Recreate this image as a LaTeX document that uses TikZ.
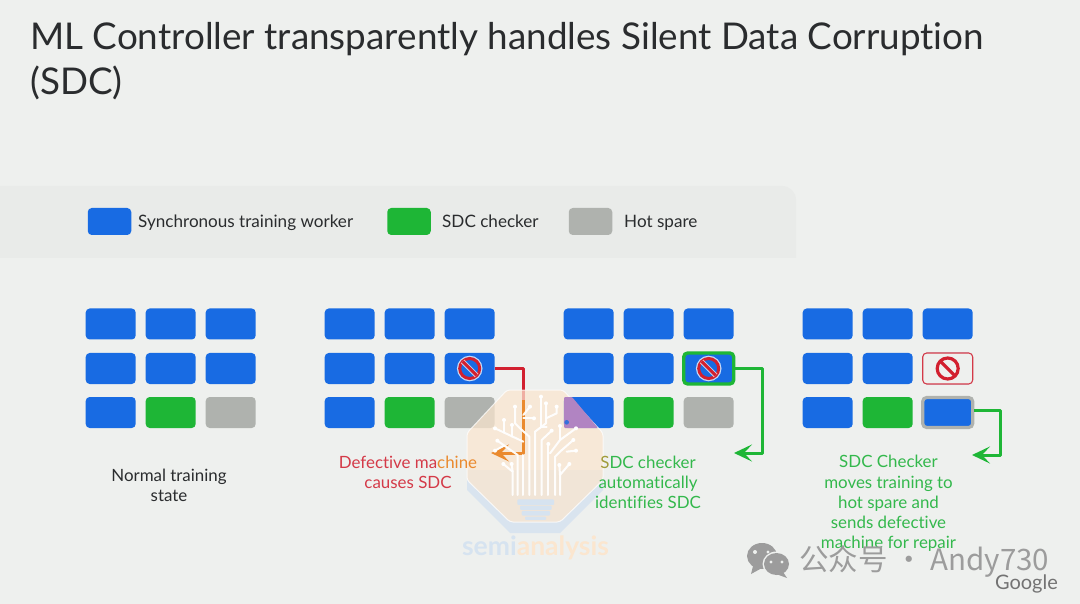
\documentclass[tikz,border=0pt]{standalone}
\usepackage{fontspec}
\setmainfont[Ligatures=NoCommon]{Lato}
\newfontfamily\cjkf{Noto Sans CJK SC}
\usetikzlibrary{arrows.meta,calc}
\definecolor{bgc}{HTML}{EEF0EE}
\definecolor{panelc}{HTML}{E9EBE9}
\definecolor{bluec}{HTML}{186BE3}
\definecolor{greenc}{HTML}{1EB636}
\definecolor{grayc}{HTML}{AFB2AE}
\definecolor{redc}{HTML}{D2202F}
\definecolor{redt}{HTML}{D43A48}
\definecolor{greent}{HTML}{33B84C}
\definecolor{inkc}{HTML}{2A2C2E}
\definecolor{orangec}{HTML}{EA8A2E}
\definecolor{wmc}{HTML}{FBE6CF}
\definecolor{wmb}{HTML}{D6E3F0}
\definecolor{wxc}{HTML}{9C9C9C}
\definecolor{purplec}{HTML}{B184C2}
\tikzset{
  x=1pt,y=-1pt,
  cell/.style={rounded corners=4pt,minimum width=50pt,minimum height=31pt,inner sep=0pt,fill=#1,draw=none},
  key/.style={rounded corners=4pt,minimum width=43.5pt,minimum height=27pt,inner sep=0pt,fill=#1,draw=none},
  keytext/.style={anchor=base west,inner sep=0pt,text=inkc,font=\fontsize{17.1}{20}\selectfont},
  caption/.style={align=center,inner sep=0pt,font=\fontsize{16.9}{20.2}\selectfont},
  link/.style={line width=3pt,line join=round,-{Stealth[length=18pt,width=17pt,inset=8pt]}},
  twig/.style={white,line width=2pt,line cap=round,line join=round,opacity=.95},
  tip/.style={fill=white,draw=none}
}
\newcommand{\stopsign}[2]{% at, interior
  \fill[white,opacity=.75] (#1) circle (12.8pt);
  \draw[redc,line width=3pt,fill=#2] (#1) circle (10pt);
  \draw[white,line width=5pt,opacity=.7] ($(#1)+(-7,-7)$) -- ($(#1)+(7,7)$);
  \draw[redc,line width=3pt] ($(#1)+(-7,-7)$) -- ($(#1)+(7,7)$);
}
\begin{document}
\begin{tikzpicture}
\useasboundingbox (0,0) rectangle (1080,604);
\fill[bgc] (0,0) rectangle (1080,604);
\fill[panelc,rounded corners=14pt] (-30,186) rectangle (796,300);
\fill[bgc] (-30,258) rectangle (830,310);
% title
\node[anchor=west,inner sep=0pt,text=inkc,font=\fontsize{36.85}{44}\selectfont] (title1) at (30,39) {ML Controller transparently handles Silent Data Corruption};
\node[anchor=west,inner sep=0pt,text=inkc,font=\fontsize{36.85}{44}\selectfont] (title2) at (30,83) {(SDC)};
% legend
\node[key=bluec] (k1) at (109.5,221.5) {};
\node[keytext] (k1t) at (138,228) {Synchronous training worker};
\node[key=greenc] (k2) at (409,221.5) {};
\node[keytext] (k2t) at (442,228) {SDC checker};
\node[key=grayc] (k3) at (590.5,221.5) {};
\node[keytext] (k3t) at (624,228) {Hot spare};
% worker grids
\foreach \g/\dx in {1/0,2/239,3/478,4/717}{
  \foreach \c/\cx in {1/110.7,2/170.7,3/230.7}{
    \foreach \r/\ry in {1/324,2/368.5}{
      \node[cell=bluec] (g\g r\r c\c) at (\dx+\cx,\ry) {};
    }
  }
  \node[cell=bluec] (g\g r3c1) at (\dx+110.7,412.5) {};
  \node[cell=greenc] (g\g r3c2) at (\dx+170.7,412.5) {};
  \node[cell=grayc] (g\g r3c3) at (\dx+230.7,412.5) {};
}
% group 3 highlighted worker
\node[cell=bluec,draw=greenc,line width=3.4pt,minimum width=50pt,minimum height=31pt] (g3fault) at (g3r2c3) {};
% group 4 states
\node[cell=bgc,draw=redt,line width=1.1pt,minimum width=50pt,minimum height=31pt] (g4fault) at (g4r2c3) {};
\node[cell=bluec,draw=grayc,line width=3.2pt,minimum width=50pt,minimum height=30pt] (g4moved) at (g4r3c3) {};
% stop signs
\stopsign{g2r2c3}{bluec}
\stopsign{g3fault}{bluec}
\draw[redc,line width=3.2pt] (g4fault) circle (10.5pt);
\draw[redc,line width=3.2pt] ($(g4fault)+(-7.5,-7.5)$) -- ($(g4fault)+(7.5,7.5)$);
% connectors
\coordinate (c2a) at (523,368.5);
\coordinate (c2b) at (523,453);
\coordinate (c2e) at (491,453);
\coordinate (c3a) at (762,368.5);
\coordinate (c3b) at (762,453);
\coordinate (c3e) at (734,453);
\coordinate (c4s) at ($(g4moved.east)+(0,-2.5)$);
\coordinate (c4a) at (1000,410);
\coordinate (c4b) at (1000,455);
\coordinate (c4e) at (972,455);
\draw[redc,line width=3pt,line join=round] (g2r2c3.east) -- (c2a) -- (c2b);
\draw[link,greenc] (g3fault.east) -- (c3a) -- (c3b) -- (c3e);
\draw[link,greenc] (c4s) -- (c4a) -- (c4b) -- (c4e);
% watermark
\fill[wmb,opacity=.85] (510,533) -- (560,533) -- (603,490) -- (603,470) -- (467,470) -- (467,490) -- cycle;
\fill[wmc,opacity=.72,draw=white,line width=1pt,rounded corners=3pt] (507,390) -- (563,390) -- (603,433) -- (603,480) -- (560,522) -- (510,522) -- (467,480) -- (467,433) -- cycle;
\fill[purplec,rounded corners=1pt] (564,397) -- (572,397) -- (598,428) -- (564,428) -- cycle;
\draw[link,orangec] (523,400) -- (c2b) -- (c2e);
% tree
\begin{scope}[shift={(440,340)},scale=1/3]
  \draw[twig] (218,465) -- (218,395) -- (190,372);
  \draw[twig] (218,395) -- (215,372);
  \draw[twig] (233,465) -- (233,345) -- (172,302);
  \draw[twig] (190,318) -- (165,332);
  \draw[twig] (250,465) -- (250,345);
  \draw[twig] (250,305) -- (165,265);
  \draw[twig] (192,278) -- (192,240);
  \draw[twig] (216,290) -- (216,255);
  \draw[twig] (268,465) -- (268,290) -- (240,265) -- (225,250) -- (225,200);
  \draw[twig] (285,465) -- (285,275) -- (318,250) -- (318,190);
  \draw[twig] (318,235) -- (350,220) -- (350,200);
  \draw[twig] (250,225) -- (270,200);
  \draw[twig] (250,235) -- (282,235);
  \draw[twig] (303,170) -- (303,262);
  \draw[twig] (303,262) -- (320,262);
  \draw[twig] (305,465) -- (305,300) -- (335,272);
  \draw[twig] (325,465) -- (325,345) -- (325,312);
  \draw[twig] (345,465) -- (345,350) -- (360,335) -- (400,300);
  \draw[twig] (330,340) -- (360,300) -- (408,265);
  \draw[twig] (360,300) -- (360,258);
  \draw[twig] (380,335) -- (408,332);
  \draw[twig] (360,465) -- (360,405) -- (388,372);
  \draw[twig] (360,405) -- (358,375);
  \foreach \px/\py in {190/372,215/372,172/302,165/332,165/265,192/240,216/255,225/200,318/190,350/200,270/200,282/235,303/170,335/272,325/312,400/300,408/265,360/258,408/332,388/372,358/375}
    \fill[tip] (\px,\py) circle (6);
  \fill[bluec,opacity=.8] (380,247) circle (7);
  \foreach \bx/\by/\bw/\bh in {232/478/110/17,240/497/95/13,245/513/85/14,255/530/63/10}
    \fill[wmb,rounded corners=1pt] (\bx,\by) rectangle ++(\bw,\bh);
\end{scope}
\node[inner sep=0pt,font=\fontsize{26.5}{30}\bfseries\selectfont] (wmtext) at (535.5,548) {\textcolor{wmb}{semi}\textcolor{wmc}{analysis}};
% captions
\node[caption,text=inkc] (cap1) at (169,485.5) {Normal training\\state};
\node[caption,text=redt] (cap2) at (408,472.5) {Defective ma\textcolor{orangec}{chine}\\causes SD\textcolor{redt}{C}};
\node[caption,text=greent] (cap3) at (648,482.5) {\textcolor{orangec!60!greent}{S}DC checker\\automatically\\identifies SDC};
\node[caption,text=greent] (cap4) at (888.5,503.5) {SDC Checker\\moves training to\\hot spare and\\sends defective\\machine for repair};
% wechat mark
\fill[wxc] (762,556) ellipse (15 and 13);
\fill[wxc] (753,566) -- (751,574) -- (762,568) -- cycle;
\fill[bgc] (776.5,564) ellipse (14 and 12.5);
\fill[wxc] (776.5,564) ellipse (12.5 and 11);
\fill[wxc] (783,572) -- (787,578) -- (776,574) -- cycle;
\fill[bgc] (755,552) circle (2) (768,552) circle (1.6) (771,562) circle (1.6) (782,562) circle (1.6);
\node[anchor=west,inner sep=0pt,text=wxc,font=\cjkf\fontsize{29.5}{34}\selectfont] (wx) at (799,561) {公众号 · Andy730};
\node[anchor=east,inner sep=0pt,text=gray!90!black,font=\fontsize{20}{22}\selectfont] (goog) at (1058,584) {Google};
\end{tikzpicture}
\end{document}
